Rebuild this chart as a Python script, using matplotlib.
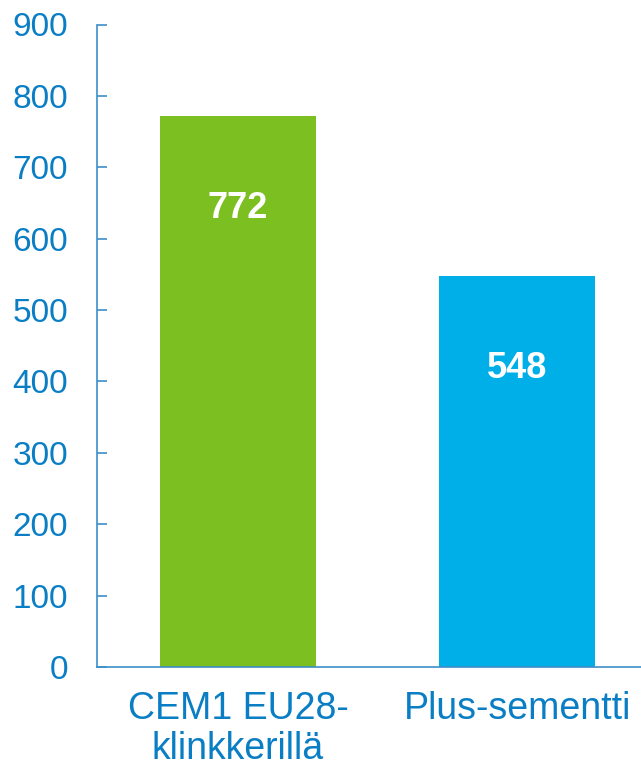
import matplotlib
matplotlib.use("Agg")
import matplotlib.pyplot as plt

categories = ["CEM1 EU28-\nklinkkerillä", "Plus-sementti"]
values = [772, 548]
colors = ["#7BBF21", "#00AEE8"]
yticks = [0, 100, 200, 300, 400, 500, 600, 700, 800, 900]

text_blue = "#0A7EC4"
axis_blue = "#3D8FC9"

plt.rcParams['font.family'] = ['Liberation Sans', 'DejaVu Sans']

fig = plt.figure(figsize=(6.41, 7.70), dpi=100)
ax = fig.add_axes([97/641, 103/770, 1 - 97/641, (667 - 24.5)/770])

x = list(range(len(categories)))
bars = ax.bar(x, values, width=0.56, color=colors, zorder=2)

for xi, v in zip(x, values):
    ax.annotate(str(v), xy=(xi, v), xytext=(0, -93), textcoords='offset pixels',
                ha='center', va='center', color='white', fontsize=26, fontweight='bold')

ax.set_xlim(-0.505, 1.444)
ax.set_ylim(0, 900)
ax.set_yticks(yticks)
ax.set_yticklabels([str(t) for t in yticks])
ax.set_xticks(x)
ax.set_xticklabels(categories, linespacing=1.15)

for s in ['top', 'right']:
    ax.spines[s].set_visible(False)
for s in ['left', 'bottom']:
    ax.spines[s].set_color(axis_blue)
    ax.spines[s].set_linewidth(1.2)

ax.tick_params(axis='y', direction='in', length=7.5, width=1.2, color=axis_blue,
               labelcolor=text_blue, labelsize=24, pad=21)
ax.tick_params(axis='x', length=0, labelcolor=text_blue, labelsize=27, pad=17)

fig.savefig("out.png", dpi=100)
